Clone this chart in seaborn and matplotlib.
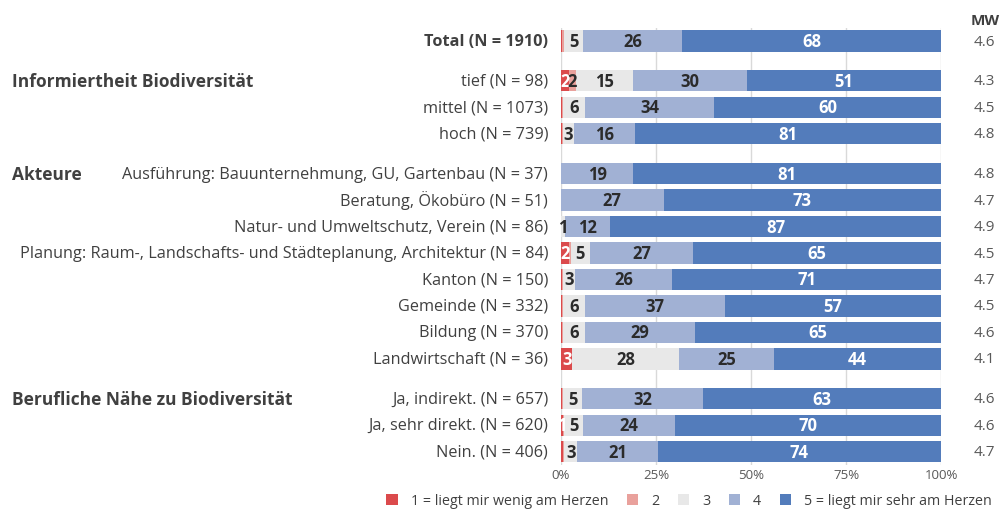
import matplotlib
matplotlib.use("Agg")
import matplotlib.pyplot as plt
import numpy as np
import pandas as pd
import seaborn as sns
from matplotlib.patches import Patch

# rows (top to bottom)
rows = [
    "Total (N = 1910)",
    "tief (N = 98)",
    "mittel (N = 1073)",
    "hoch (N = 739)",
    "Ausführung: Bauunternehmung, GU, Gartenbau (N = 37)",
    "Beratung, Ökobüro (N = 51)",
    "Natur- und Umweltschutz, Verein (N = 86)",
    "Planung: Raum-, Landschafts- und Städteplanung, Architektur (N = 84)",
    "Kanton (N = 150)",
    "Gemeinde (N = 332)",
    "Bildung (N = 370)",
    "Landwirtschaft (N = 36)",
    "Ja, indirekt. (N = 657)",
    "Ja, sehr direkt. (N = 620)",
    "Nein. (N = 406)",
]
group_of_row = [0, 1, 1, 1, 2, 2, 2, 2, 2, 2, 2, 2, 3, 3, 3]
groups = ["", "Informiertheit Biodiversität", "Akteure", "Berufliche Nähe zu Biodiversität"]

# shares in % per answer category
s1 = [0.3, 2.0, 0.2, 0.3, 0.0, 0.0, 0.0, 2.2, 0.2, 0.2, 0.2, 3.0, 0.2, 0.6, 0.4]
s2 = [0.5, 2.0, 0.4, 0.2, 0.0, 0.0, 0.0, 0.3, 0.4, 0.4, 0.4, 0.0, 0.4, 0.3, 0.5]
s3 = [5.0, 15.0, 5.7, 2.9, 0.0, 0.0, 1.0, 5.0, 3.0, 5.6, 5.6, 28.0, 4.8, 5.0, 3.3]
s4 = [26.0, 30.0, 33.9, 16.0, 19.0, 27.0, 12.0, 27.3, 25.7, 36.9, 29.0, 25.0, 32.0, 24.0, 21.3]
s5 = [68.2, 51.0, 59.8, 80.6, 81.0, 73.0, 87.0, 65.2, 70.7, 56.9, 64.8, 44.0, 62.6, 70.1, 74.5]
mw = ["4.6", "4.3", "4.5", "4.8", "4.8", "4.7", "4.9", "4.5", "4.7", "4.5", "4.6", "4.1", "4.6", "4.6", "4.7"]

cat_names = ["1 = liegt mir wenig am Herzen", "2", "3", "4", "5 = liegt mir sehr am Herzen"]
colors = ["#DB4A4C", "#E9A19C", "#E8E8E8", "#A1B1D4", "#537CBB"]
text_colors = ["white", "#2B2B2B", "#2B2B2B", "#2B2B2B", "white"]

# vertical positions with half-row gaps between groups
pos = []
y = 0.0
for i, g in enumerate(group_of_row):
    if i > 0 and g != group_of_row[i - 1]:
        y += 0.5
    pos.append(y)
    if i < len(group_of_row) - 1:
        y += 1.0

shares = np.array([s1, s2, s3, s4, s5])
cum = shares.cumsum(axis=0)
df = pd.DataFrame({"pos": pos})
for k in range(5):
    df[f"c{k}"] = cum[k]

plt.rcParams["font.family"] = ["Open Sans", "DejaVu Sans"]
fig = plt.figure(figsize=(10.06, 5.1), dpi=100)
ax = fig.add_axes([0.5577, 0.0863, 0.3777, 0.8573])

for x in [0, 25, 50, 75, 100]:
    ax.axvline(x, color="#D9D9D9", lw=1, zorder=0)

# stacked bars: draw cumulative totals from back to front
for k in range(4, -1, -1):
    sns.barplot(data=df, x=f"c{k}", y="pos", orient="y", native_scale=True,
                color=colors[k], width=0.8, saturation=1, linewidth=0, ax=ax, zorder=2)

# segment labels
for i in range(len(rows)):
    left = 0.0
    for k in range(5):
        v = shares[k, i]
        if round(v) >= 1:
            ax.text(left + v / 2, pos[i], f"{round(v):d}", ha="center", va="center",
                    fontsize=12, fontweight="bold", color=text_colors[k], zorder=5)
        left += v

ax.set_xlim(0, 100)
ax.set_ylim(pos[-1] + 0.5, -0.5)
ax.set_xticks([0, 25, 50, 75, 100])
ax.set_xticklabels(["0%", "25%", "50%", "75%", "100%"], fontsize=9.5, color="#595959")
ax.set_yticks(pos)
ax.set_yticklabels([])
ax.tick_params(length=0, pad=2)
ax.set_xlabel("")
ax.set_ylabel("")
for sp in ax.spines.values():
    sp.set_visible(False)

# row labels, group headers and MW column
for i, lab in enumerate(rows):
    ax.text(-3.4, pos[i], lab, ha="right", va="center", fontsize=11.7,
            fontweight="bold" if i == 0 else "normal", color="#404040")
    ax.text(111.5, pos[i], mw[i], ha="center", va="center", fontsize=11, color="#595959")
ax.text(111.5, -0.8, "MW", ha="center", va="center", fontsize=11, fontweight="bold", color="#404040")

seen = set()
for i, g in enumerate(group_of_row):
    if g in seen or g == 0:
        continue
    seen.add(g)
    fig.text(12 / 1006, 1 - (42 + pos[i] * 26.5) / 510, groups[g], ha="left", va="center",
             fontsize=12.5, fontweight="bold", color="#404040")

handles = [Patch(facecolor=c, edgecolor="none") for c in colors]
fig.legend(handles, cat_names, loc="center", bbox_to_anchor=(0.685, 0.016), ncol=5, frameon=False,
           fontsize=10.3, handlelength=0.8, handleheight=0.8, columnspacing=1.3, handletextpad=0.9,
           labelcolor="#404040", borderpad=0.1)

fig.savefig("out.png", dpi=100)
